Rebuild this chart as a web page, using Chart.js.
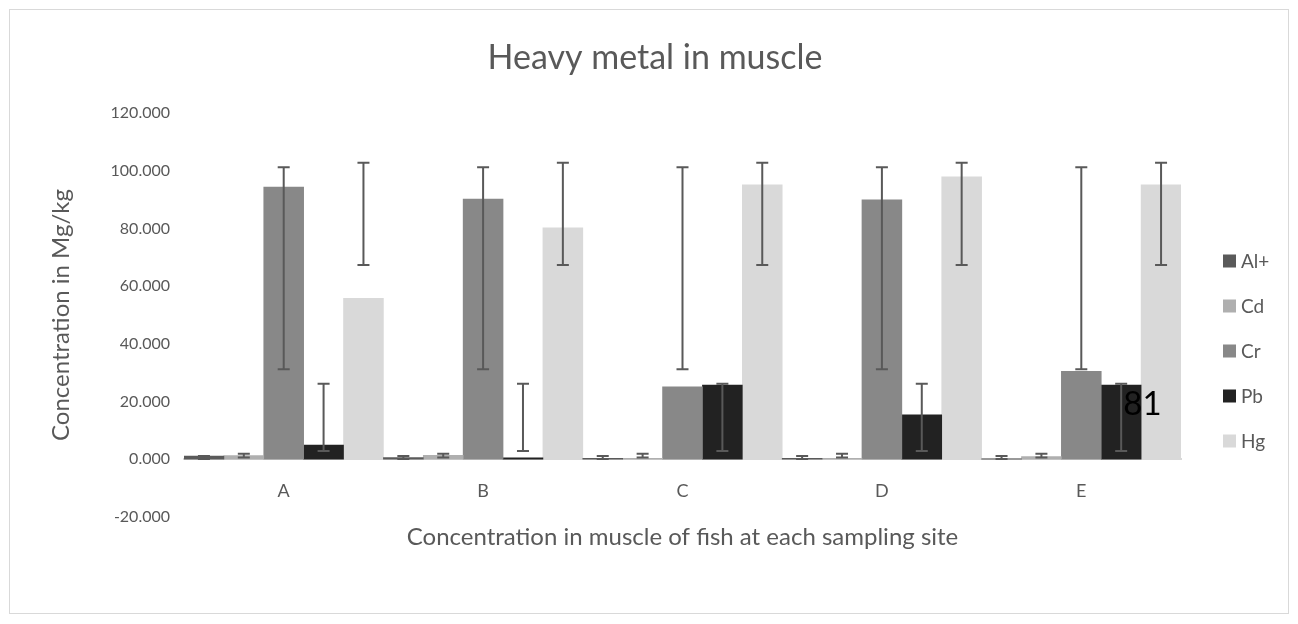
<!DOCTYPE html>
<html>
<head>
<meta charset="utf-8">
<script src="https://cdn.jsdelivr.net/npm/chart.js@4.4.1/dist/chart.umd.min.js"></script>
<style>
  html, body { margin: 0; padding: 0; background: #fff; }
  #wrap { width: 1298px; height: 624px; }
</style>
</head>
<body>
<div id="wrap"><canvas id="chart" width="1298" height="624"></canvas></div>
<script>
const sites = ['A', 'B', 'C', 'D', 'E'];

const alValues = [1.1, 0.6, 0.3, 0.3, 0.2];
const cdValues = [1.3, 1.4, 0.3, 0.3, 0.9];
const crValues = [94.3, 90.2, 25.1, 89.9, 30.5];
const pbValues = [4.9, 0.5, 25.7, 15.4, 25.7];
const hgValues = [55.8, 80.2, 95.1, 97.9, 95.1];

// error bars as [low, high] for each site
const alErrors = [[0.1, 1.1], [0.1, 1.1], [0.1, 1.1], [0.1, 1.1], [0.1, 1.1]];
const cdErrors = [[0.6, 1.9], [0.6, 1.9], [0.6, 1.9], [0.6, 1.9], [0.6, 1.9]];
const crErrors = [[31.2, 101.2], [31.2, 101.2], [31.2, 101.2], [31.2, 101.2], [31.2, 101.2]];
const pbErrors = [[2.9, 26.2], [2.9, 26.2], [2.9, 26.2], [2.9, 26.2], [2.9, 26.2]];
const hgErrors = [[67.3, 102.8], [67.3, 102.8], [67.3, 102.8], [67.3, 102.8], [67.3, 102.8]];

const chartTitle = 'Heavy metal in muscle';
// stray text left on the original figure
const strayLabel = { text: '81', site: 'E', value: 19 };

const textColor = '#595959';
const fontFamily = 'Lato, "Open Sans", sans-serif';
Chart.defaults.font.family = fontFamily;

const errorBars = {
  id: 'errorBars',
  afterDatasetsDraw(chart) {
    const ctx = chart.ctx;
    const y = chart.scales.y;
    ctx.save();
    ctx.strokeStyle = '#595959';
    ctx.lineWidth = 2;
    chart.data.datasets.forEach((ds, i) => {
      const meta = chart.getDatasetMeta(i);
      meta.data.forEach((bar, j) => {
        const [lo, hi] = ds.errors[j];
        const yLo = y.getPixelForValue(lo);
        const yHi = y.getPixelForValue(hi);
        ctx.beginPath();
        ctx.moveTo(bar.x, yLo); ctx.lineTo(bar.x, yHi);
        ctx.moveTo(bar.x - 6, yLo); ctx.lineTo(bar.x + 6, yLo);
        ctx.moveTo(bar.x - 6, yHi); ctx.lineTo(bar.x + 6, yHi);
        ctx.stroke();
      });
    });
    ctx.restore();
  }
};

const frameAndLegend = {
  id: 'frameAndLegend',
  beforeDraw(chart) {
    const ctx = chart.ctx;
    ctx.save();
    ctx.fillStyle = '#fff';
    ctx.fillRect(0, 0, chart.width, chart.height);
    ctx.strokeStyle = '#d9d9d9';
    ctx.lineWidth = 1;
    ctx.strokeRect(9.5, 9.5, 1279, 604);
    ctx.restore();
  },
  afterDraw(chart) {
    const ctx = chart.ctx;
    ctx.save();
    // title, centred on the whole frame like the original
    ctx.fillStyle = textColor;
    ctx.font = '34px ' + fontFamily;
    ctx.textAlign = 'center';
    ctx.textBaseline = 'middle';
    ctx.fillText(chartTitle, 655, 58);

    ctx.textAlign = 'left';
    ctx.font = '19px ' + fontFamily;
    chart.data.datasets.forEach((ds, i) => {
      const cy = 261 + i * 45;
      ctx.fillStyle = ds.backgroundColor;
      ctx.fillRect(1223, cy - 6.5, 13, 13);
      ctx.fillStyle = textColor;
      ctx.fillText(ds.label, 1241, cy + 1);
    });
    const xs = chart.scales.x, ys = chart.scales.y;
    ctx.fillStyle = '#000';
    ctx.font = '33px ' + fontFamily;
    ctx.fillText(strayLabel.text, xs.getPixelForValue(sites.indexOf(strayLabel.site)) + 42,
                 ys.getPixelForValue(strayLabel.value));
    ctx.restore();
  }
};

new Chart(document.getElementById('chart'), {
  type: 'bar',
  data: {
    labels: sites,
    datasets: [
      { label: 'Al+', data: alValues, errors: alErrors, backgroundColor: '#5a5a5a' },
      { label: 'Cd', data: cdValues, errors: cdErrors, backgroundColor: '#afafaf' },
      { label: 'Cr', data: crValues, errors: crErrors, backgroundColor: '#888888' },
      { label: 'Pb', data: pbValues, errors: pbErrors, backgroundColor: '#222222' },
      { label: 'Hg', data: hgValues, errors: hgErrors, backgroundColor: '#d9d9d9' }
    ]
  },
  options: {
    responsive: false,
    animation: false,
    categoryPercentage: 1,
    barPercentage: 1,
    layout: { padding: { top: 113, right: 117, bottom: 107, left: 0 } },
    plugins: {
      legend: { display: false },
      tooltip: { enabled: false },
      title: { display: false }
    },
    scales: {
      x: {
        position: { y: 0 },
        grid: { display: false, drawTicks: false },
        border: { display: true, color: '#d9d9d9', width: 2 },
        ticks: { color: textColor, font: { size: 18 }, padding: 21 },
        title: {
          display: true,
          text: 'Concentration in muscle of fish at each sampling site',
          color: textColor,
          font: { size: 24 },
          padding: { top: 0, bottom: 0 }
        }
      },
      y: {
        min: -20,
        max: 120,
        grid: { display: false, drawTicks: false },
        border: { display: false },
        ticks: { stepSize: 20, color: textColor, font: { size: 16 }, padding: 14,
                 callback: v => v.toFixed(3) },
        title: {
          display: true,
          text: 'Concentration in Mg/kg',
          color: textColor,
          font: { size: 24 },
          padding: { top: 47 }
        },
        afterFit(scale) { scale.width = 184; }
      }
    }
  },
  plugins: [errorBars, frameAndLegend]
});
</script>
</body>
</html>
